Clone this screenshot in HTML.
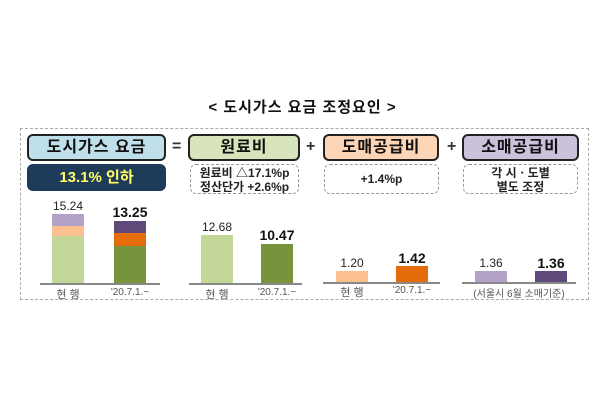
<!DOCTYPE html><html><head><meta charset="utf-8"><style>
body{margin:0;width:605px;height:403px;background:#fff;position:relative;overflow:hidden;font-family:"Liberation Sans","Noto Sans CJK KR",sans-serif}
div{position:absolute;box-sizing:border-box}
.hb{border:2px solid #222;border-radius:6px;font-weight:bold;font-size:16px;text-align:center;line-height:23px;color:#111;letter-spacing:1px}
.sb{border:1px dashed #999;border-radius:6px;font-size:12px;text-align:center;font-weight:bold;color:#222;line-height:14px}
.op{font-size:16px;font-weight:bold;color:#333}
.bl{height:1.5px;background:#888}
.v{font-size:12px;color:#222;text-align:center;width:60px}
.vb{font-size:14px;font-weight:bold;color:#111;text-align:center;width:60px}
.x{font-size:10px;color:#555;text-align:center;width:80px}
</style></head><body>
<div style="left:0;width:605px;top:96px;text-align:center;font-size:15px;font-weight:bold;color:#111;letter-spacing:1px">&lt; 도시가스 요금 조정요인 &gt;</div>
<div style="left:20px;top:128px;width:569px;height:172px;border:1px dashed #aaa"></div>
<div class="hb" style="left:27px;top:134px;width:139px;height:27px;background:#bfe0ea">도시가스 요금</div>
<div style="left:27px;top:164px;width:139px;height:27px;background:#1f3b5a;border-radius:6px;color:#ffff66;font-weight:bold;font-size:15px;text-align:center;line-height:27px">13.1% 인하</div>
<div class="op" style="left:172px;top:138px">=</div>
<div class="hb" style="left:188px;top:134px;width:112px;height:27px;background:#d8e4bc">원료비</div>
<div class="sb" style="left:190px;top:164px;width:109px;height:30px;padding-top:1px">원료비 △17.1%p<br>정산단가 +2.6%p</div>
<div class="op" style="left:306px;top:138px">+</div>
<div class="hb" style="left:323px;top:134px;width:116px;height:27px;background:#fbd5b5">도매공급비</div>
<div class="sb" style="left:324px;top:164px;width:115px;height:30px;line-height:28px">+1.4%p</div>
<div class="op" style="left:447px;top:138px">+</div>
<div class="hb" style="left:462px;top:134px;width:117px;height:27px;background:#ccc1da">소매공급비</div>
<div class="sb" style="left:463px;top:164px;width:115px;height:30px;padding-top:1px">각 시ㆍ도별<br>별도 조정</div>
<div style="left:52px;top:214px;width:32px;height:12px;background:#b3a2c7"></div>
<div style="left:52px;top:226px;width:32px;height:10px;background:#fac090"></div>
<div style="left:52px;top:236px;width:32px;height:47px;background:#c4d79b"></div>
<div style="left:114px;top:221px;width:32px;height:12px;background:#5f497a"></div>
<div style="left:114px;top:233px;width:32px;height:13px;background:#e46c0a"></div>
<div style="left:114px;top:246px;width:32px;height:37px;background:#77933c"></div>
<div class="bl" style="left:40px;top:283px;width:120px"></div>
<div class="v" style="left:38px;top:199px">15.24</div>
<div class="vb" style="left:100px;top:204px">13.25</div>
<div class="x" style="left:28px;top:286px;font-size:11px">현 행</div>
<div class="x" style="left:90px;top:287px">'20.7.1.~</div>
<div style="left:201px;top:235px;width:32px;height:48px;background:#c4d79b"></div>
<div style="left:261px;top:244px;width:32px;height:39px;background:#77933c"></div>
<div class="bl" style="left:189px;top:283px;width:113px"></div>
<div class="v" style="left:187px;top:220px">12.68</div>
<div class="vb" style="left:247px;top:227px">10.47</div>
<div class="x" style="left:177px;top:286px;font-size:11px">현 행</div>
<div class="x" style="left:237px;top:287px">'20.7.1.~</div>
<div style="left:336px;top:271px;width:32px;height:12px;background:#fac090"></div>
<div style="left:396px;top:266px;width:32px;height:17px;background:#e46c0a"></div>
<div class="bl" style="left:323px;top:282px;width:117px"></div>
<div class="v" style="left:322px;top:256px">1.20</div>
<div class="vb" style="left:382px;top:250px">1.42</div>
<div class="x" style="left:312px;top:284px;font-size:11px">현 행</div>
<div class="x" style="left:372px;top:285px">'20.7.1.~</div>
<div style="left:475px;top:271px;width:32px;height:12px;background:#b3a2c7"></div>
<div style="left:535px;top:271px;width:32px;height:12px;background:#5f497a"></div>
<div class="bl" style="left:462px;top:282px;width:114px"></div>
<div class="v" style="left:461px;top:256px">1.36</div>
<div class="vb" style="left:521px;top:255px">1.36</div>
<div class="x" style="left:459px;top:285px;width:120px">(서울시 6월 소매기준)</div>
</body></html>
